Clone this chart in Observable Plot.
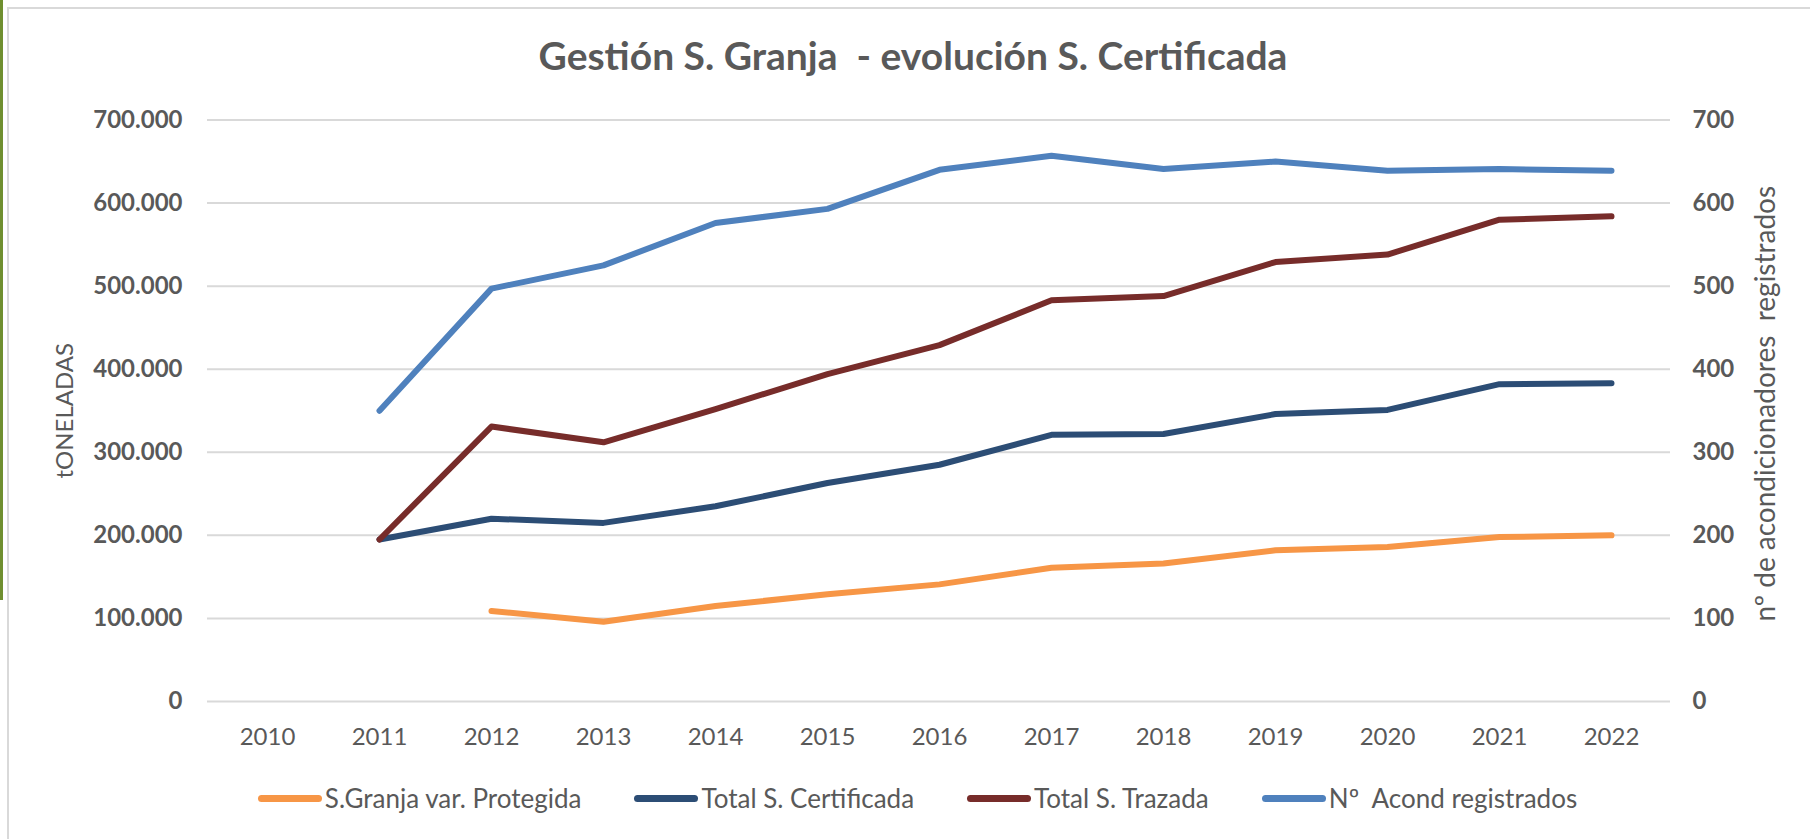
<!DOCTYPE html>
<html><head><meta charset="utf-8">
<script src="https://cdn.jsdelivr.net/npm/d3@7"></script>
<script src="https://cdn.jsdelivr.net/npm/@observablehq/plot@0.6"></script>
<style>
html,body{margin:0;padding:0;background:#fff;}
body{width:1810px;height:839px;position:relative;overflow:hidden;font-family:Lato,"Open Sans",sans-serif;color:#595959;}
#frame{position:absolute;left:7px;top:7px;right:-10px;bottom:-10px;border-left:2px solid #d9d9d9;border-top:2px solid #d9d9d9;}
#green{position:absolute;left:0;top:0;width:3px;height:600px;background:#6f8f2f;}
#title{position:absolute;left:0;top:36px;width:1826px;text-align:center;font-weight:700;font-size:39px;line-height:39px;color:#595959;white-space:pre;}
#chart{position:absolute;left:0;top:95px;}
#legend{position:absolute;left:0;top:781px;width:1835px;display:flex;justify-content:center;gap:53px;font-size:26px;line-height:34px;color:#595959;}
.item{display:flex;align-items:center;gap:3px;white-space:pre;}
.sw{width:64px;height:7px;border-radius:4px;}
</style></head><body>
<div id="frame"></div>
<div id="green"></div>
<div id="title"></div>
<div id="chart"></div>
<div id="legend"></div>
<script>
const years = ["2010","2011","2012","2013","2014","2015","2016","2017","2018","2019","2020","2021","2022"];
const granjaProtegida  = [null, null, 109000, 96000, 115000, 129000, 141000, 161000, 166000, 182000, 186000, 198000, 200000];
const totalCertificada = [null, 195000, 220000, 215000, 235000, 263000, 285000, 321000, 322000, 346000, 351000, 382000, 383000];
const totalTrazada     = [null, 195000, 331000, 312000, 352000, 394000, 429000, 483000, 488000, 529000, 538000, 580000, 584000];
const acondRegistrados = [null, 350, 497, 525, 576, 593, 640, 657, 641, 650, 639, 641, 639];
const seriesNames  = ["S.Granja var. Protegida", "Total S. Certificada", "Total S. Trazada", "Nº\u00a0 Acond registrados"];
const seriesColors = ["#F79646", "#2C4D75", "#772C2A", "#4F81BD"];
const leftTicks  = [0, 100000, 200000, 300000, 400000, 500000, 600000, 700000];
const rightTicks = [0, 100, 200, 300, 400, 500, 600, 700];
const titleText = "Gestión S. Granja\u00a0 - evolución S. Certificada";
const leftLabel = "tONELADAS";
const rightLabel = "nº de acondicionadores\u00a0 registrados";

document.getElementById("title").textContent = titleText;

// secondary axis (count) shares the same 0–700 grid as the primary (0–700.000)
const secondaryFactor = 1000;
const seriesValues = [granjaProtegida, totalCertificada, totalTrazada, acondRegistrados.map(v => v == null ? null : v * secondaryFactor)];
const rows = [];
seriesValues.forEach((vals, s) => years.forEach((year, i) => rows.push({series: seriesNames[s], year, value: vals[i]})));

const fmt = d3.formatLocale({decimal: ",", thousands: ".", grouping: [3], currency: ["", "€"]}).format(",d");

const plot = Plot.plot({
  width: 1810, height: 675,
  marginLeft: 207, marginRight: 140, marginTop: 24.5, marginBottom: 69,
  style: {fontFamily: "Lato, sans-serif", color: "#595959", background: "transparent", overflow: "visible"},
  x: {type: "point", domain: years, padding: 0.5},
  y: {domain: [0, 700000]},
  marks: [
    Plot.ruleY(leftTicks, {stroke: "#d9d9d9", strokeWidth: 2}),
    Plot.axisY(leftTicks, {anchor: "left", tickSize: 0, tickPadding: 25, tickFormat: fmt, fontSize: 24, fontWeight: "bold", label: null}),
    Plot.axisY(rightTicks.map(d => d * secondaryFactor), {anchor: "right", tickSize: 0, tickPadding: 22, tickFormat: d => String(d / secondaryFactor), fontSize: 24, fontWeight: "bold", label: null}),
    Plot.axisX({tickSize: 0, tickPadding: 26, fontSize: 24, label: null}),
    Plot.text([leftLabel], {text: d => d, frameAnchor: "left", dx: -142, rotate: -90, fontSize: 24, textAnchor: "middle", lineAnchor: "middle"}),
    Plot.text([rightLabel], {text: d => d, frameAnchor: "right", dx: 96, dy: -7, rotate: -90, fontSize: 28, textAnchor: "middle", lineAnchor: "middle"}),
    ...seriesNames.map((name, s) => Plot.line(rows, {
      filter: d => d.series === name && d.value != null,
      x: "year", y: "value", stroke: seriesColors[s], strokeWidth: 6,
      strokeLinecap: "round", strokeLinejoin: "round"
    }))
  ]
});
document.getElementById("chart").appendChild(plot);

const legend = document.getElementById("legend");
seriesNames.forEach((name, s) => {
  const item = document.createElement("div"); item.className = "item";
  const sw = document.createElement("span"); sw.className = "sw"; sw.style.background = seriesColors[s];
  const tx = document.createElement("span"); tx.textContent = name;
  item.appendChild(sw); item.appendChild(tx); legend.appendChild(item);
});
</script>
</body></html>
